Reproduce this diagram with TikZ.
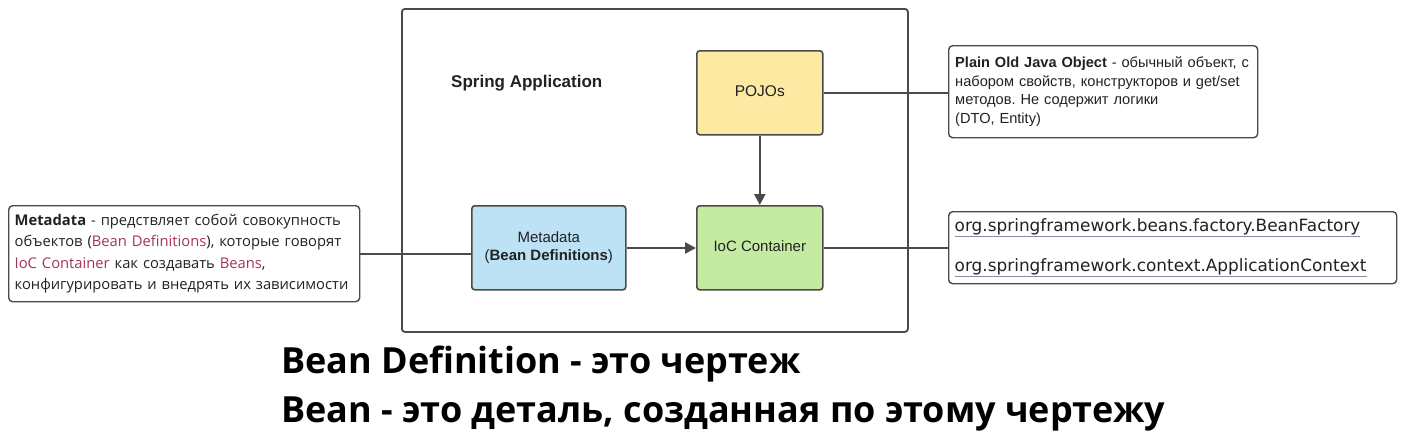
\documentclass[tikz,border=0pt]{standalone}
\usepackage{fontspec}
\setmainfont{Liberation Sans}
\newfontfamily\osans{Open Sans}
\newfontfamily\dejavu{DejaVu Sans}
\usetikzlibrary{arrows.meta}
\definecolor{edge}{HTML}{4A4A4A}
\definecolor{yel}{HTML}{FDE9A2}
\definecolor{grn}{HTML}{C5EBA2}
\definecolor{blu}{HTML}{BDE1F5}
\definecolor{pink}{HTML}{A33462}
\definecolor{txt}{HTML}{222222}
\definecolor{ulc}{HTML}{8A8AA8}
\newcommand{\ul}[1]{\leavevmode\rlap{\textcolor{ulc}{\underline{\phantom{#1}}}}#1}
\frenchspacing
\begin{document}
\begin{tikzpicture}[x=1pt,y=-1pt,
  box/.style={draw=edge,line width=1.6pt,rounded corners=3pt,anchor=north west,inner sep=0pt,text=txt},
  note/.style={draw=edge,line width=1.4pt,rounded corners=4pt,anchor=north west,inner xsep=6pt,inner ysep=0pt,align=left,text=txt},
  conn/.style={draw=edge,line width=1.3pt},
  arr/.style={draw=edge,line width=2.4pt,-{Triangle[length=11pt,width=11pt]}}]
\useasboundingbox (0,0) rectangle (1402,445);
\fill[white] (0,0) rectangle (1402,445);
% frame
\node[draw=edge,line width=1.8pt,rounded corners=3pt,anchor=north west,minimum width=506pt,minimum height=323pt,inner sep=0pt] (frame) at (401,8) {};
\node[anchor=west,font=\fontsize{17}{19}\selectfont\bfseries,text=txt,inner sep=0pt] (title) at (451,83) {Spring Application};
% boxes
\node[box,fill=yel,minimum width=126pt,minimum height=84pt,font=\fontsize{15.5}{18}\selectfont] (pojo) at (696,50) {\raisebox{4pt}{POJOs}};
\node[box,fill=grn,minimum width=126pt,minimum height=84pt,font=\fontsize{15}{18}\selectfont] (ioc) at (696,205) {\raisebox{3pt}{IoC Container}};
\node[box,fill=blu,minimum width=154pt,minimum height=84pt,font=\fontsize{15}{18}\selectfont,align=center] (meta) at (471,205) {Metadata\\(\textbf{Bean Definitions})};
% notes
\node[note,minimum width=351pt,minimum height=96pt,text width=339pt,font=\osans\fontsize{14.75}{21.2}\selectfont] (lnote) at (8,205)
 {\textbf{Metadata} - предствляет собой совокупность\\
 объектов (\textcolor{pink}{Bean Definitions}), которые говорят\\
 \textcolor{pink}{IoC Container} как создавать \textcolor{pink}{Beans},\\
 конфигурировать и внедрять их зависимости};
\node[note,minimum width=309pt,minimum height=92pt,text width=296pt,inner xsep=6.5pt,font=\fontsize{14.6}{18.5}\selectfont] (pnote) at (948,45)
 {\textbf{Plain Old Java Object} - обычный объект, с\\
 набором свойств, конструкторов и get/set\\
 методов. Не содержит логики\\
 (DTO, Entity)\\[-3pt]};
\node[note,minimum width=448pt,minimum height=72pt,text width=436pt,font=\dejavu\fontsize{16.9}{40}\selectfont] (cnote) at (948,211)
 {\ul{org.springframework.beans.factory.BeanFactory}\\
 \ul{org.springframework.context.ApplicationContext}};
% connectors
\draw[conn] (lnote.east |- 0,254) -- (meta.west |- 0,254);
\draw[conn] (pojo.east |- 0,93) -- (pnote.west |- 0,93);
\draw[conn] (ioc.east |- 0,248) -- (cnote.west |- 0,248);
\draw[arr] (pojo.south) -- (ioc.north);
\draw[arr] (meta.east |- 0,248) -- (ioc.west |- 0,248);
% bottom text
\node[anchor=west,font=\osans\bfseries\fontsize{36}{40}\selectfont,inner sep=0pt] (t1) at (281,364) {Bean Definition - это чертеж};
\node[anchor=west,font=\osans\bfseries\fontsize{36}{40}\selectfont,inner sep=0pt] (t2) at (281,414) {Bean - это деталь, созданная по этому чертежу};
\end{tikzpicture}
\end{document}
